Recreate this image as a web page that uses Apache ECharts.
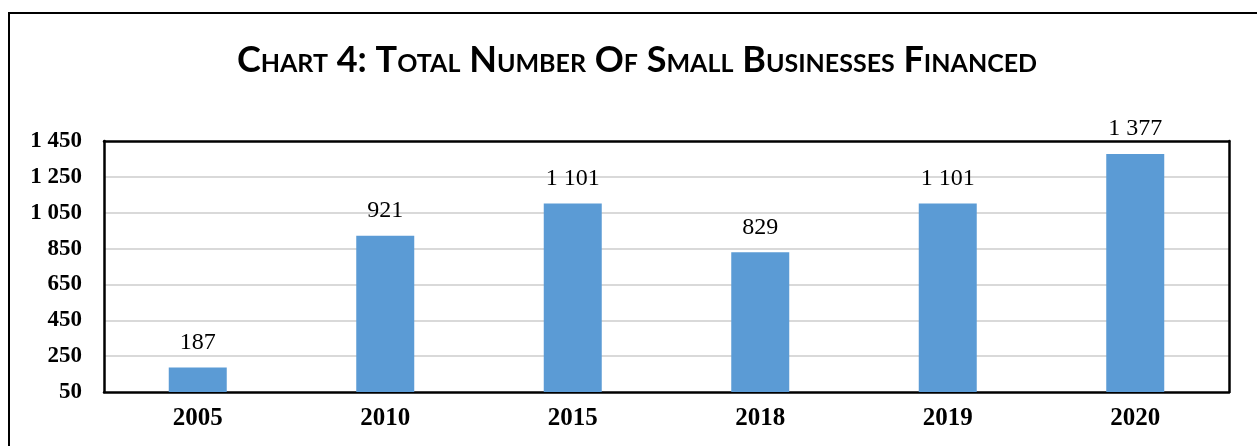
<!DOCTYPE html>
<html>
<head>
<meta charset="utf-8">
<script src="https://cdn.jsdelivr.net/npm/echarts@6/dist/echarts.min.js"></script>
<style>
html,body{margin:0;padding:0;background:#fff;}
#chart{width:1257px;height:446px;}
</style>
</head>
<body>
<div id="chart"></div>
<script>
const titleText = 'Chart 4: Total Number Of Small Businesses Financed';
const categories = ['2005', '2010', '2015', '2018', '2019', '2020'];
const values = [187, 921, 1101, 829, 1101, 1377];
const yMin = 50, yMax = 1450, yStep = 200;

function fmt(v) {
  return String(v).replace(/\B(?=(\d{3})+(?!\d))/g, ' ');
}

const frameLine = {show: true, lineStyle: {color: '#000', width: 2.5}};
const chart = echarts.init(document.getElementById('chart'), null, {renderer: 'canvas'});
chart.setOption({
  animation: false,
  backgroundColor: '#fff',
  title: {
    text: titleText,
    left: 632,
    top: 37,
    textAlign: 'center',
    textStyle: {
      fontFamily: 'Lato',
      fontStyle: 'small-caps',
      fontWeight: 'bold',
      fontSize: 36,
      color: '#000'
    }
  },
  graphic: [{
    type: 'rect',
    shape: {x: 9, y: 13, width: 1400, height: 600},
    style: {fill: 'none', stroke: '#000', lineWidth: 2},
    silent: true,
    z: -1
  }],
  grid: {
    left: 104, right: 28, top: 141, bottom: 54,
    containLabel: false
  },
  xAxis: [{
    type: 'category',
    data: categories,
    axisLine: frameLine,
    axisTick: {show: false},
    axisLabel: {
      margin: 14,
      fontFamily: '"Liberation Serif", serif',
      fontWeight: 'bold',
      fontSize: 25,
      color: '#000'
    }
  }, {
    type: 'category',
    position: 'top',
    data: categories,
    axisLine: frameLine,
    axisTick: {show: false},
    axisLabel: {show: false}
  }],
  yAxis: [{
    type: 'value',
    min: yMin, max: yMax, interval: yStep,
    axisLine: frameLine,
    axisTick: {show: false},
    splitLine: {show: true, showMinLine: false, showMaxLine: false, lineStyle: {color: '#d9d9d9', width: 2}},
    axisLabel: {
      margin: 22,
      formatter: fmt,
      fontFamily: '"Liberation Serif", serif',
      fontWeight: 'bold',
      fontSize: 23,
      color: '#000'
    }
  }, {
    type: 'value',
    position: 'right',
    min: yMin, max: yMax, interval: yStep,
    axisLine: frameLine,
    axisTick: {show: false},
    splitLine: {show: false},
    axisLabel: {show: false}
  }],
  series: [{
    type: 'bar',
    data: values,
    barWidth: 58,
    itemStyle: {color: '#5B9BD5'},
    label: {
      show: true,
      position: 'top',
      distance: 13,
      formatter: p => fmt(p.value),
      fontFamily: '"Liberation Serif", serif',
      fontSize: 24,
      color: '#000'
    }
  }]
});
</script>
</body>
</html>
